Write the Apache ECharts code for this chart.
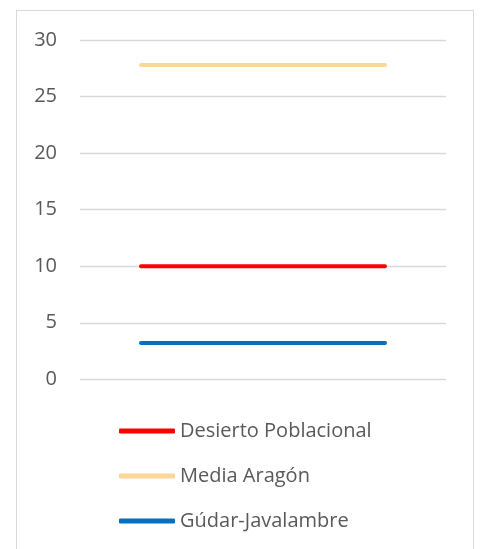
<!DOCTYPE html>
<html>
<head>
<meta charset="utf-8">
<script src="https://cdn.jsdelivr.net/npm/echarts@6/dist/echarts.min.js"></script>
<style>
    html, body { margin: 0; padding: 0; background: #fff; }
    #frame {
        position: absolute; left: 16px; top: 10px; width: 458px; height: 560px;
        border: 1px solid #d9d9d9; box-sizing: border-box;
    }
    #main { position: absolute; left: 0; top: 0; width: 480px; height: 549px; }
</style>
</head>
<body>
<div id="frame"></div>
<div id="main"></div>
<script>
    // categories (not labelled in the original)
    var categories = ['', '', ''];
    var desierto = [10, 10, 10];
    var mediaAragon = [27.8, 27.8, 27.8];
    var gudar = [3.2, 3.2, 3.2];
    var yTicks = [0, 5, 10, 15, 20, 25, 30];

    var fontFam = '"Open Sans", "Noto Sans", sans-serif';
    var chart = echarts.init(document.getElementById('main'));

    function lineSeries(name, data, color) {
        return {
            name: name,
            type: 'line',
            data: data,
            symbol: 'none',
            lineStyle: { color: color, width: 4, cap: 'round' },
            itemStyle: { color: color },
            animation: false
        };
    }

    chart.setOption({
        animation: false,
        grid: { left: 80, right: 34, top: 40, height: 339.3 },
        xAxis: {
            type: 'category',
            data: categories,
            boundaryGap: true,
            axisLine: { show: false },
            axisTick: { show: false },
            axisLabel: { show: false }
        },
        yAxis: {
            type: 'value',
            min: yTicks[0],
            max: yTicks[yTicks.length - 1],
            interval: 5,
            axisLine: { show: false },
            axisTick: { show: false },
            axisLabel: { color: '#595959', fontSize: 20, fontFamily: fontFam, margin: 23 },
            splitLine: { lineStyle: { color: '#d9d9d9', width: 1.3 } }
        },
        legend: {
            orient: 'vertical',
            left: 114,
            top: 416,
            itemWidth: 56,
            itemHeight: 5,
            itemGap: 25,
            icon: 'roundRect',
            textStyle: { color: '#595959', fontSize: 20, fontFamily: fontFam },
            data: ['Desierto Poblacional', 'Media Aragón', 'Gúdar-Javalambre']
        },
        series: [
            lineSeries('Desierto Poblacional', desierto, '#ff0000'),
            lineSeries('Media Aragón', mediaAragon, '#ffd699'),
            lineSeries('Gúdar-Javalambre', gudar, '#0070c0')
        ]
    });
</script>
</body>
</html>
